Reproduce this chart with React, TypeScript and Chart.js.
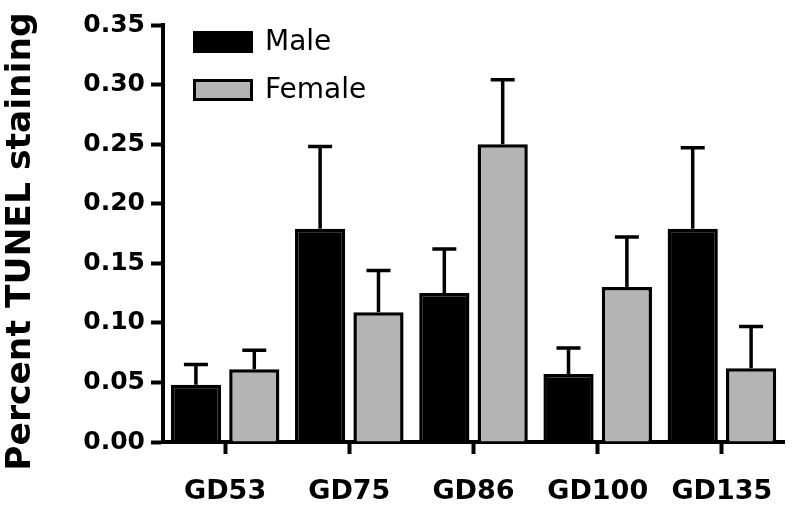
import React, { useEffect, useRef } from "react";
import { Chart, registerables } from "chart.js";

Chart.register(...registerables);

const categories = ["GD53", "GD75", "GD86", "GD100", "GD135"];
const maleValues = [0.048, 0.179, 0.125, 0.057, 0.179];
const maleErrors = [0.017, 0.069, 0.037, 0.022, 0.068];
const femaleValues = [0.061, 0.109, 0.25, 0.13, 0.062];
const femaleErrors = [0.016, 0.035, 0.054, 0.042, 0.035];
const seriesNames = ["Male", "Female"];
const yTitle = "Percent TUNEL staining";

const BOLD = "'DejaVu Sans', Arial, sans-serif";

const errorBarPlugin = {
  id: "errorBars",
  afterDatasetsDraw(chart: any) {
    const ctx = chart.ctx;
    const y = chart.scales.y;
    chart.data.datasets.forEach((ds: any, i: number) => {
      const meta = chart.getDatasetMeta(i);
      meta.data.forEach((bar: any, j: number) => {
        const top = y.getPixelForValue(ds.data[j] + ds.errors[j]);
        ctx.save();
        ctx.strokeStyle = "#000";
        ctx.lineWidth = 3.5;
        ctx.beginPath();
        ctx.moveTo(bar.x, bar.y);
        ctx.lineTo(bar.x, top);
        ctx.moveTo(bar.x - 12, top);
        ctx.lineTo(bar.x + 12, top);
        ctx.stroke();
        ctx.restore();
      });
    });
  },
};

const yTitlePlugin = {
  id: "yTitle",
  afterDraw(chart: any) {
    const ctx = chart.ctx;
    const area = chart.chartArea;
    ctx.save();
    ctx.translate(21, (area.top + area.bottom) / 2 + 8);
    ctx.rotate(-Math.PI / 2);
    ctx.fillStyle = "#000";
    ctx.font = `bold 34.5px ${BOLD}`;
    ctx.textAlign = "center";
    ctx.textBaseline = "middle";
    ctx.fillText(yTitle, 0, 0);
    ctx.restore();
  },
};

const legendPlugin = {
  id: "insideLegend",
  afterDraw(chart: any) {
    const ctx = chart.ctx;
    const area = chart.chartArea;
    const x0 = area.left + 30;
    const rows = [area.top + 6, area.top + 54];
    chart.data.datasets.forEach((ds: any, i: number) => {
      const yTop = rows[i];
      ctx.save();
      ctx.fillStyle = ds.backgroundColor;
      ctx.fillRect(x0, yTop, 60, 22);
      ctx.strokeStyle = "#000";
      ctx.lineWidth = 3;
      ctx.strokeRect(x0 + 1.5, yTop + 1.5, 57, 19);
      ctx.fillStyle = "#000";
      ctx.font = `28px ${BOLD}`;
      ctx.textAlign = "left";
      ctx.textBaseline = "middle";
      ctx.fillText(ds.label, x0 + 72, yTop + 12);
      ctx.restore();
    });
  },
};

export default function App() {
  const ref = useRef<HTMLCanvasElement>(null);

  useEffect(() => {
    if (!ref.current) return;
    const chart = new Chart(ref.current, {
      type: "bar",
      data: {
        labels: categories,
        datasets: [
          {
            label: seriesNames[0],
            data: maleValues,
            errors: maleErrors,
            backgroundColor: "#000000",
            borderColor: "#000000",
            borderWidth: 3.5,
            categoryPercentage: 0.94,
            barPercentage: 0.86,
          } as any,
          {
            label: seriesNames[1],
            data: femaleValues,
            errors: femaleErrors,
            backgroundColor: "#b4b4b4",
            borderColor: "#000000",
            borderWidth: 3.5,
            categoryPercentage: 0.94,
            barPercentage: 0.86,
          } as any,
        ],
      },
      options: {
        responsive: false,
        animation: false,
        layout: { padding: { top: 25, right: 16, bottom: 0, left: 0 } },
        plugins: {
          legend: { display: false },
          tooltip: { enabled: false },
        },
        scales: {
          x: {
            afterFit(scale: any) {
              scale.height = 72;
            },
            grid: {
              offset: false,
              drawOnChartArea: false,
              drawTicks: true,
              tickLength: 12,
              tickWidth: 4,
              tickColor: "#000",
            },
            border: { display: true, width: 4, color: "#000" },
            ticks: {
              color: "#000",
              padding: 22,
              font: { family: BOLD, size: 27, weight: "bold" },
              maxRotation: 0,
            },
          },
          y: {
            min: 0,
            max: 0.35,
            afterFit(scale: any) {
              scale.width = 163;
            },
            grid: {
              drawOnChartArea: false,
              drawTicks: true,
              tickLength: 12,
              tickWidth: 4,
              tickColor: "#000",
            },
            border: { display: true, width: 4, color: "#000" },
            ticks: {
              stepSize: 0.05,
              color: "#000",
              padding: 6,
              font: { family: BOLD, size: 25, weight: "bold" },
              callback: (v: any) => Number(v).toFixed(2),
            },
            title: { display: false, text: yTitle },
          },
        },
      },
      plugins: [errorBarPlugin, legendPlugin, yTitlePlugin],
    } as any);
    return () => chart.destroy();
  }, []);

  return (
    <div style={{ position: "absolute", left: 0, top: 0, width: 800, height: 514, background: "#fff" }}>
      <canvas ref={ref} width={800} height={514} />
    </div>
  );
}
